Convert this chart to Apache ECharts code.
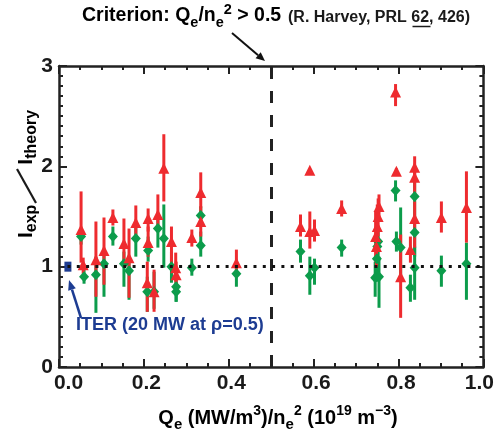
<!DOCTYPE html>
<html><head><meta charset="utf-8">
<script src="https://cdn.jsdelivr.net/npm/echarts@6/dist/echarts.min.js"></script>
<style>html,body{margin:0;padding:0;background:#fff}#c{width:497px;height:439px}</style>
</head><body><div id="c"></div><script>
const FONT = '"Liberation Sans",Arial,Helvetica,sans-serif';
const RED = '#ee2b2f', GREEN = '#0c9c4b', BLUE = '#1d3c92', INK = '#1a1a1a';

const xTickLabels = ['0.0', '0.2', '0.4', '0.6', '0.8', '1.0'];
const yTickLabels = ['0', '1', '2', '3'];

// red triangles: x, value, lower, upper
const redX  = [0.052,0.057,0.087,0.106,0.127,0.153,0.165,0.181,0.210,0.210,0.208,0.224,0.233,0.247,0.265,0.275,0.276,0.313,0.334,0.334,0.418,
               0.569,0.591,0.591,0.602,0.666,0.746,0.750,0.752,0.754,0.748,0.793,0.795,0.805,0.828,0.838,0.838,0.838,0.901,0.960];
const redY  = [1.37,1.02,1.07,1.16,1.49,1.23,1.09,1.44,1.48,1.24,0.84,0.75,1.52,1.98,1.25,0.99,0.92,1.29,1.74,1.45,1.04,
               1.40,1.96,1.35,1.36,1.58,1.30,1.40,1.50,1.60,1.20,2.74,1.95,0.90,1.17,1.99,1.89,1.48,1.49,1.59];
const redLo = [1.04,0.93,0.70,0.82,1.41,1.00,0.69,1.27,1.35,1.10,0.55,0.55,1.35,1.65,1.00,0.85,0.80,1.20,1.59,1.30,0.95,
               1.30,1.96,1.18,1.25,1.50,1.05,1.15,1.30,1.45,1.00,2.60,1.92,0.49,1.04,1.85,1.70,1.19,1.34,1.24];
const redHi = [1.75,1.09,1.45,1.49,1.57,1.48,1.38,1.61,1.58,1.40,1.05,0.97,1.72,2.32,1.40,1.14,1.05,1.37,1.94,1.60,1.17,
               1.52,1.96,1.55,1.47,1.66,1.55,1.62,1.68,1.72,1.35,2.82,1.98,1.32,1.30,2.10,2.00,1.65,1.65,1.95];

// green diamonds: x, value, lower, upper
const greenX  = [0.052,0.059,0.087,0.106,0.127,0.153,0.165,0.181,0.210,0.208,0.224,0.233,0.247,0.265,0.276,0.276,0.313,0.334,0.334,0.418,
                 0.569,0.591,0.602,0.666,0.745,0.749,0.752,0.754,0.750,0.793,0.795,0.805,0.828,0.838,0.838,0.838,0.901,0.960];
const greenY  = [1.30,0.90,0.92,1.03,1.30,1.03,0.96,1.28,1.16,0.75,0.75,1.38,1.28,1.00,0.80,0.75,0.99,1.51,1.21,0.93,
                 1.15,0.91,0.99,1.19,0.89,1.08,1.25,0.90,1.20,1.76,1.25,1.19,0.79,1.70,1.34,0.99,0.96,1.03];
const greenLo = [1.22,0.83,0.54,0.70,1.21,0.80,0.67,1.10,1.05,0.55,0.58,1.19,0.99,0.84,0.65,0.65,0.91,1.40,1.10,0.80,
                 1.04,0.72,0.82,1.10,0.70,0.85,1.10,0.59,1.05,1.65,1.15,0.92,0.65,1.50,1.10,0.67,0.80,0.67];
const greenHi = [1.38,0.97,1.10,1.15,1.40,1.15,1.10,1.40,1.30,0.90,0.95,1.50,1.62,1.15,0.95,0.85,1.08,1.60,1.35,1.02,
                 1.27,1.10,1.08,1.27,1.05,1.20,1.40,1.10,1.32,1.86,1.35,1.59,0.92,1.85,1.50,1.20,1.11,1.24];

const iterX = [0.021], iterY = [1.0];
const criterionX = 0.5, unityY = 1.0;

function errRender(color) {
  return function (params, api) {
    const p1 = api.coord([api.value(0), api.value(1)]);
    const p2 = api.coord([api.value(0), api.value(2)]);
    return { type: 'line', shape: { x1: p1[0], y1: p1[1], x2: p2[0], y2: p2[1] },
             style: { stroke: color, lineWidth: 3 } };
  };
}
function arrow(x1, y1, x2, y2, color, w, hl, hw) {
  const a = Math.atan2(y2 - y1, x2 - x1);
  const bx = x2 - hl * Math.cos(a), by = y2 - hl * Math.sin(a);
  const nx = -Math.sin(a) * hw / 2, ny = Math.cos(a) * hw / 2;
  return [
    { type: 'line', shape: { x1: x1, y1: y1, x2: bx, y2: by }, style: { stroke: color, lineWidth: w } },
    { type: 'polygon', shape: { points: [[x2, y2], [bx + nx, by + ny], [bx - nx, by - ny]] }, style: { fill: color } }
  ];
}

const tickStyle = { color: '#222', width: 2 };
function xAxisDef(pos, labels) {
  return {
    type: 'value', position: pos, min: 0, max: 1, interval: 0.2,
    axisLine: { show: true, onZero: false, lineStyle: { color: '#222', width: 2.5 } },
    axisTick: { show: true, inside: true, length: 8, lineStyle: tickStyle },
    minorTick: { show: true, splitNumber: 4, length: 4, lineStyle: tickStyle },
    splitLine: { show: false },
    axisLabel: labels ? {
      show: true, margin: 6, fontFamily: FONT, fontWeight: 'bold', fontSize: 21, color: INK,
      formatter: function (v) {
        const s = xTickLabels[Math.round(v / 0.2)];
        if (v === 0) return '{f|' + s + '}';
        if (v === 1) return '{l|' + s + '}';
        return '{n|' + s + '}';
      },
      rich: {
        f: { fontFamily: FONT, fontWeight: 'bold', fontSize: 21, color: INK, padding: [0, 0, 0, 19] },
        l: { fontFamily: FONT, fontWeight: 'bold', fontSize: 21, color: INK, padding: [0, 8, 0, 0] },
        n: { fontFamily: FONT, fontWeight: 'bold', fontSize: 21, color: INK, padding: [0, 0, 0, 5] }
      }
    } : { show: false }
  };
}
function yAxisDef(pos, labels) {
  return {
    type: 'value', position: pos, min: 0, max: 3, interval: 1,
    axisLine: { show: true, onZero: false, lineStyle: { color: '#222', width: 2.5 } },
    axisTick: { show: true, inside: true, length: 8, lineStyle: tickStyle },
    minorTick: { show: true, splitNumber: 10, length: 4, lineStyle: tickStyle },
    splitLine: { show: false },
    axisLabel: labels ? {
      show: true, margin: 6, fontFamily: FONT, fontWeight: 'bold', fontSize: 21, color: INK,
      formatter: function (v) { return yTickLabels[Math.round(v)]; }
    } : { show: false }
  };
}

const M = { fontFamily: FONT, fontWeight: 'bold', color: INK };
const option = {
  animation: false,
  backgroundColor: '#fff',
  grid: { left: 59, right: 13, top: 66, bottom: 72 },
  xAxis: [xAxisDef('bottom', true), xAxisDef('top', false)],
  yAxis: [yAxisDef('left', true), yAxisDef('right', false)],
  series: [
    { type: 'scatter', data: [], silent: true,
      markLine: { silent: true, symbol: 'none', label: { show: false }, animation: false,
        data: [
          [{ coord: [criterionX, 0], lineStyle: { type: [12, 12], width: 3, color: '#222' } }, { coord: [criterionX, 3] }],
          [{ coord: [0.02, unityY], lineStyle: { type: [3, 6.3], width: 3, color: '#111' } }, { coord: [1, unityY] }]
        ] } },
    { type: 'custom', name: 'green err', renderItem: errRender(GREEN), encode: { x: 0, y: [1, 2] },
      data: greenX.map((x, i) => [x, greenLo[i], greenHi[i]]) },
    { type: 'custom', name: 'red err', renderItem: errRender(RED), encode: { x: 0, y: [1, 2] },
      data: redX.map((x, i) => [x, redLo[i], redHi[i]]) },
    { type: 'scatter', name: 'green', symbol: 'diamond', symbolSize: [10, 11], itemStyle: { color: GREEN, opacity: 1 },
      data: greenX.map((x, i) => [x, greenY[i]]) },
    { type: 'scatter', name: 'red', symbol: 'triangle', symbolSize: [11, 11], itemStyle: { color: RED, opacity: 1 },
      data: redX.map((x, i) => [x, redY[i]]) },
    { type: 'scatter', name: 'ITER', symbol: 'rect', symbolSize: [7, 10], itemStyle: { color: BLUE, opacity: 1 },
      data: iterX.map((x, i) => [x, iterY[i]]) }
  ],
  graphic: [
    { type: 'text', x: 82, y: 2, z: 10,
      style: {
        text: '{m|Criterion: Q}{s|e}{m|/n}{s|e}{p|2}{m| > 0.5}',
        verticalAlign: 'top', align: 'left',
        rich: {
          m: Object.assign({ fontSize: 19.5, lineHeight: 28 }, M),
          s: Object.assign({ fontSize: 14.5, lineHeight: 16, verticalAlign: 'bottom' }, M),
          p: Object.assign({ fontSize: 14.5, lineHeight: 21, verticalAlign: 'top' }, M)
        }
      } },
    { type: 'text', x: 288, y: 17.2, z: 10,
      style: { text: '(R. Harvey, PRL 62, 426)', align: 'left', verticalAlign: 'middle',
               fontFamily: FONT, fontWeight: 'bold', fontSize: 16, fill: INK } },
    { type: 'line', shape: { x1: 412.5, y1: 26.5, x2: 430.5, y2: 26.5 }, style: { stroke: INK, lineWidth: 1.5 } },
    ...arrow(232, 33, 265, 61, '#111', 2, 9, 8),
    { type: 'text', x: 26, y: 174, rotation: Math.PI / 2, z: 10,
      style: {
        text: '{m|I}{s|exp}{g| }{m|I}{s|theory}',
        align: 'center', verticalAlign: 'middle',
        rich: {
          m: Object.assign({ fontSize: 21, lineHeight: 28 }, M),
          s: Object.assign({ fontSize: 16, lineHeight: 17, verticalAlign: 'bottom' }, M),
          g: Object.assign({ fontSize: 16, lineHeight: 28, width: 40 }, M)
        }
      } },
    { type: 'line', shape: { x1: 36, y1: 203, x2: 17, y2: 169 }, style: { stroke: INK, lineWidth: 2.2 } },
    { type: 'text', x: 278, y: 418, z: 10,
      style: {
        text: '{m|Q}{s|e}{m| (MW/m}{p|3}{m|)/n}{s|e}{p|2}{m| (10}{p|19}{m| m}{p|\u22123}{m|)}',
        align: 'center', verticalAlign: 'middle',
        rich: {
          m: Object.assign({ fontSize: 20, lineHeight: 28 }, M),
          s: Object.assign({ fontSize: 15, lineHeight: 16, verticalAlign: 'bottom' }, M),
          p: Object.assign({ fontSize: 14, lineHeight: 20, verticalAlign: 'top' }, M)
        }
      } },
    { type: 'text', x: 76, y: 325, z: 10,
      style: { text: 'ITER (20 MW at \u03c1=0.5)', align: 'left', verticalAlign: 'middle',
               fontFamily: FONT, fontWeight: 'bold', fontSize: 18, fill: BLUE } },
    ...arrow(81, 318, 69, 280, BLUE, 2.5, 10, 8)
  ]
};
const chart = echarts.init(document.getElementById('c'), null, { renderer: 'canvas' });
chart.setOption(option);
</script></body></html>
